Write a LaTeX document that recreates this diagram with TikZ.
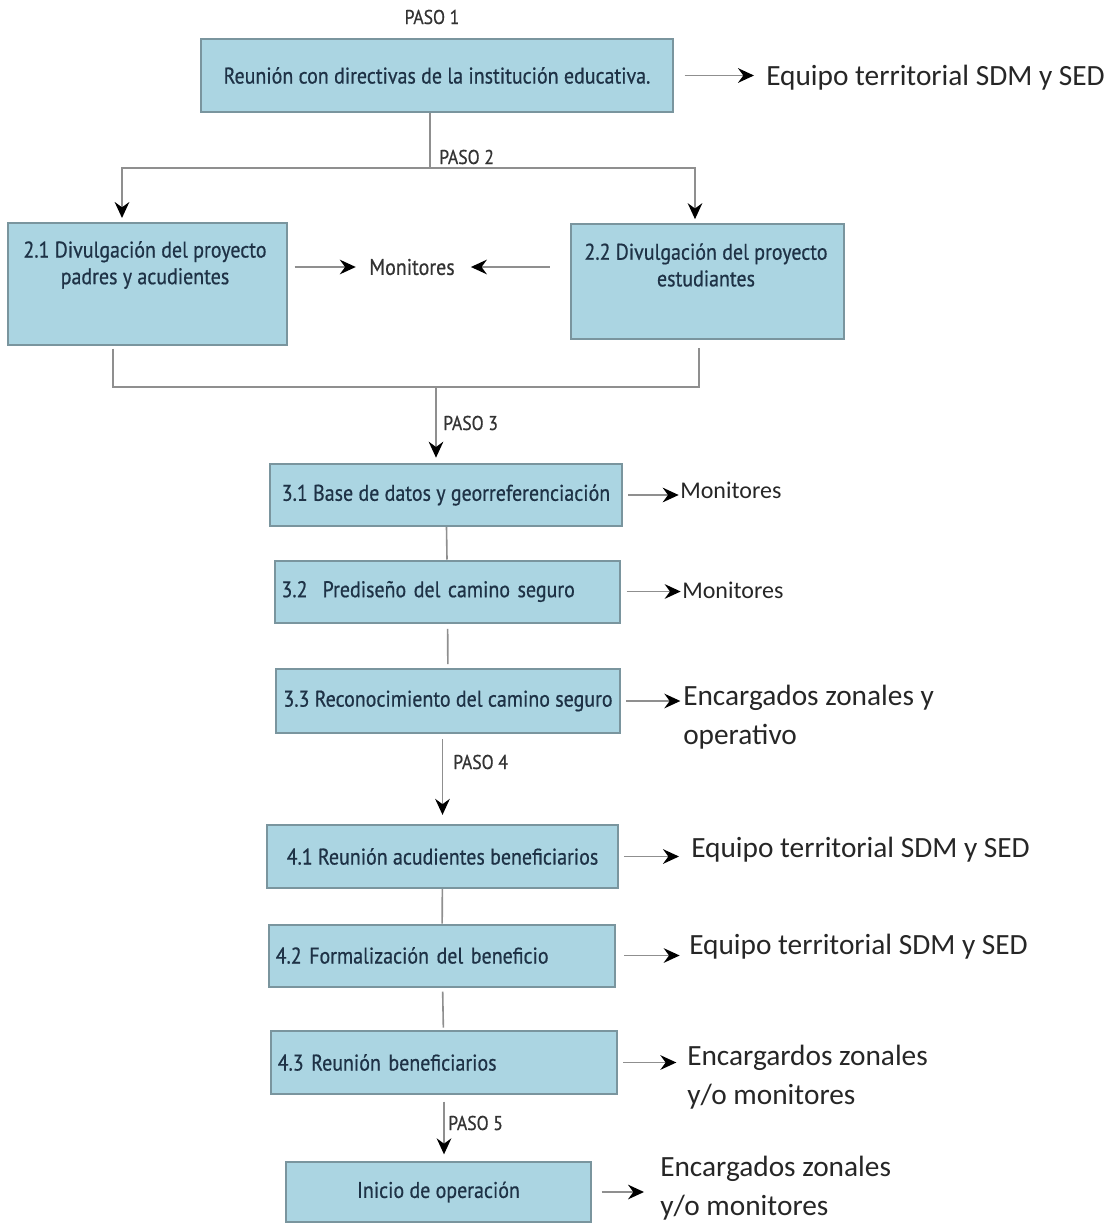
\documentclass[tikz,border=0pt]{standalone}
\usepackage{fontspec}
\newfontfamily\boxfont{PT Sans}[FakeStretch=0.88,FakeBold=0.6]
\newfontfamily\calfont{Carlito}
\usepackage{tikz}
\usetikzlibrary{arrows.meta,positioning,calc}
\definecolor{cajafill}{HTML}{ABD5E2}
\definecolor{cajaline}{HTML}{7A959E}
\definecolor{cajatext}{HTML}{1E3246}
\definecolor{connline}{HTML}{8F8F8F}
\tikzstyle{caja}=[draw=cajaline,line width=1.5pt,fill=cajafill,text=cajatext,font=\boxfont\fontsize{17}{20}\selectfont,minimum height=46.5pt,inner sep=5pt,align=center]
\tikzstyle{cajatxt}=[text=cajatext,font=\boxfont\fontsize{17}{20}\selectfont,align=center,inner sep=0pt]
\tikzstyle{paso}=[text=black!80,font=\boxfont\fontsize{15}{17}\selectfont,inner sep=0pt,anchor=west]
\tikzstyle{resp}=[text=black!85,font=\calfont\fontsize{22}{29}\selectfont,inner sep=0pt,align=left,anchor=west]
\tikzstyle{conn}=[draw=connline,line width=1.2pt]
\tikzstyle{flecha}=[conn,-{Stealth[length=12pt,width=11pt,inset=4pt,color=black]}]

\begin{document}
\begin{tikzpicture}[x=0.75pt,y=-0.75pt]
    \useasboundingbox (0,0) rectangle (1112,1224);
    % paso 1
    \node [paso,anchor=center] (p1) at (432,17) {PASO 1};
    \node [caja,minimum width=354pt,minimum height=55pt] (b1) at (437,75.5) {Reunión con directivas de la institución educativa.};
    \node [resp] (w1) at (766,78) {Equipo territorial SDM y SED};
    \draw [flecha,shorten <=8pt,shorten >=9pt] (b1.east) -- (b1.east -| w1.west);
    % paso 2
    \coordinate (j1) at (430,168);
    \coordinate (l2) at (122,168);
    \coordinate (r2) at (695,168);
    \node [paso] (p2) at (439,157) {PASO 2};
    \node [caja,minimum width=209pt,minimum height=91.5pt] (b21) at (147.5,284) {};
    \node [cajatxt] (t21) at (145,265) {2.1 Divulgación del proyecto\\padres y acudientes};
    \node [caja,minimum width=205pt,minimum height=86pt] (b22) at (707.5,281.5) {};
    \node [cajatxt] (t22) at (706,265) {2.2 Divulgación del proyecto\\estudiantes};
    \node [cajatxt,text=black!80] (mon) at (412,267) {Monitores};
    \draw [conn] (b1.south -| j1) -- (j1);
    \draw [flecha,shorten >=3pt] (j1) -- (l2) -- (l2 |- b21.north);
    \draw [flecha,shorten >=3pt] (j1) -- (r2) -- (r2 |- b22.north);
    \draw [flecha,shorten <=5pt,shorten >=10pt] (b21.east |- mon) -- (mon.west);
    \draw [flecha,shorten <=15pt,shorten >=12pt] (b22.west |- mon) -- (mon.east);
    % paso 3
    \coordinate (j2) at (436,387);
    \coordinate (l3) at (113,387);
    \coordinate (r3) at (699,387);
    \draw [conn,shorten <=2pt,shorten >=6pt] (l3 |- b21.south) -- (l3) -- (r3) -- (r3 |- b22.south);
    \node [caja,minimum width=264pt] (b31) at (446,495) {3.1 Base de datos y georreferenciación};
    \node [caja,minimum width=259pt,text width=249pt,align=left] (b32) at (447.5,591.5) {3.2\ \ Prediseño del camino seguro};
    \node [caja,minimum width=258pt,minimum height=48pt] (b33) at (448,701) {3.3 Reconocimiento del camino seguro};
    \node [paso] (p3) at (443,423) {PASO 3};
    \draw [flecha,shorten >=4pt] (j2) -- (j2 |- b31.north);
    \draw [conn] (b31) -- (b32);
    \draw [conn,shorten <=4pt,shorten >=3pt] (b32) -- (b33);
    \node [resp,font=\calfont\fontsize{18}{22}\selectfont] (m31) at (680,490) {Monitores};
    \node [resp,font=\calfont\fontsize{18}{22}\selectfont] (m32) at (682,590) {Monitores};
    \node [resp] (e33) at (683,717.5) {Encargados zonales y\\operativo};
    \draw [flecha,shorten <=4pt,shorten >=1pt] (b31.east) -- (b31.east -| m31.west);
    \draw [flecha,shorten <=4pt,shorten >=1pt] (b32.east) -- (b32.east -| m32.west);
    \draw [flecha,shorten <=4pt,shorten >=2pt] (b33.east) -- (b33.east -| e33.west);
    % paso 4
    \node [caja,minimum width=263pt,minimum height=47pt] (b41) at (442.5,856.5) {4.1 Reunión acudientes beneficiarios};
    \node [caja,minimum width=259.5pt,text width=249.5pt,align=left] (b42) at (442,955.5) {4.2 Formalización del beneficio};
    \node [caja,minimum width=259.5pt,minimum height=47pt,text width=249.5pt,align=left] (b43) at (444,1062.5) {4.3 Reunión beneficiarios};
    \node [paso] (p4) at (453,762) {PASO 4};
    \draw [flecha,shorten <=4pt,shorten >=7pt] (b41.north |- b33.south) -- (b41.north);
    \draw [conn] (b41) -- (b42);
    \draw [conn,shorten <=3pt,shorten >=2pt] (b42) -- (b43);
    \node [resp] (w41) at (691,850) {Equipo territorial SDM y SED};
    \node [resp] (w42) at (689,947) {Equipo territorial SDM y SED};
    \node [resp] (e43) at (687,1077) {Encargardos zonales\\y/o monitores};
    \draw [flecha,shorten <=4pt,shorten >=9pt] (b41.east) -- (b41.east -| w41.west);
    \draw [flecha,shorten <=6pt,shorten >=7pt] (b42.east) -- (b42.east -| w42.west);
    \draw [flecha,shorten <=4pt,shorten >=8pt] (b43.east) -- (b43.east -| e43.west);
    % paso 5
    \node [caja,minimum width=229pt,minimum height=45pt] (b5) at (438.5,1192) {Inicio de operación};
    \node [paso] (p5) at (448,1123) {PASO 5};
    \draw [flecha,shorten <=5pt,shorten >=5pt] (b43.south) -- (b43.south |- b5.north);
    \node [resp] (e5) at (660,1188) {Encargados zonales\\y/o monitores};
    \draw [flecha,shorten <=7pt,shorten >=12pt] (b5.east) -- (b5.east -| e5.west);
\end{tikzpicture}
\end{document}
